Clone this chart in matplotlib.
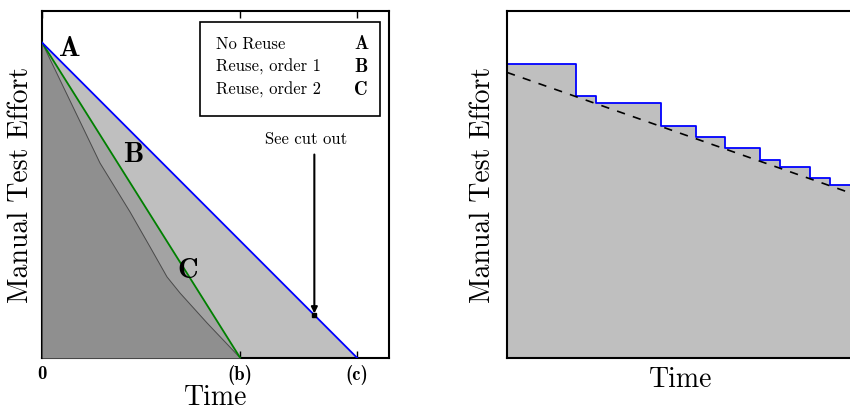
import numpy as np
import matplotlib
matplotlib.use("Agg")
import matplotlib.pyplot as plt
from matplotlib.patches import Rectangle

# ---- left panel: manual test effort over time ----
t_b = 200.0          # time at which reuse order 1 finishes
t_c = 318.0          # time at which no reuse finishes
effort0 = 100.0      # initial manual test effort

tick_pos = [0.0, t_b, t_c]
tick_labels = ["0", "(b)", "(c)"]

# No reuse (A) and reuse order 1 (B): straight decline
line_a_x = [0.0, t_c]
line_a_y = [effort0, 0.0]
line_b_x = [0.0, t_b]
line_b_y = [effort0, 0.0]

# Reuse order 2 (C): faster decline
curve_c_x = [0.0, 58.5, 88.8, 109.0, 126.1, 139.2, 166.5, 200.0]
curve_c_y = [100.0, 61.8, 46.3, 35.2, 25.7, 20.6, 11.1, 0.0]

legend_names = ["No Reuse", "Reuse, order 1", "Reuse, order 2"]
legend_keys = ["A", "B", "C"]

cut_x = 274.7

# ---- right panel: cut out of the no-reuse line ----
step_x = [0.0, 20.0, 25.7, 44.4, 54.4, 62.9, 73.0, 78.7, 87.2, 93.1, 100.0]
step_y = [84.6, 75.6, 73.6, 67.0, 63.6, 60.5, 57.1, 55.0, 52.0, 49.9, 49.9]
trend_x = [0.0, 100.0]
trend_y = [82.3, 47.2]

RM = "cmr10"
BF = "cmb10"
plt.rcParams["axes.linewidth"] = 1.5

fig = plt.figure(figsize=(8.5, 4.15), dpi=100)
ax1 = fig.add_axes([42 / 850, 57 / 415, 347 / 850, 347 / 415])
ax2 = fig.add_axes([507 / 850, 57 / 415, 347 / 850, 347 / 415])

# left panel fills
ax1.fill_between(line_a_x, line_a_y, 0, color="#bfbfbf", lw=0, zorder=1)
ax1.fill_between(line_b_x, line_b_y, 0, color="#a3a3a3", lw=0, zorder=2)
ax1.fill_between(curve_c_x, curve_c_y, 0, color="#8f8f8f", lw=0, zorder=3)
ax1.plot(curve_c_x, curve_c_y, color="#4a4a4a", lw=0.7, zorder=4)
ax1.plot(line_b_x, line_b_y, color="#008000", lw=1.3, zorder=5)
ax1.plot(line_a_x, line_a_y, color="#0000ff", lw=1.3, zorder=6)

ax1.set_xlim(0, 350)
ax1.set_ylim(0, 110)
ax1.set_xticks(tick_pos)
ax1.set_xticklabels(tick_labels, fontfamily=BF, fontsize=13.5)
ax1.set_yticks([])
ax1.tick_params(axis="x", direction="in", top=True, length=5, width=1, pad=5)
ax1.set_xlabel("Time", fontfamily=RM, fontsize=20, labelpad=0)
ax1.set_ylabel("Manual Test Effort", fontfamily=RM, fontsize=20, labelpad=6)

ax1.text(17, 98, "A", fontfamily=BF, fontsize=20.5, ha="left", va="center", zorder=7)
ax1.text(92, 64.5, "B", fontfamily=BF, fontsize=20.5, ha="center", va="center", zorder=7)
ax1.text(147, 27.5, "C", fontfamily=BF, fontsize=20.5, ha="center", va="center", zorder=7)

# legend box
ax1.add_patch(Rectangle((0.455, 0.697), 0.52, 0.27, transform=ax1.transAxes,
                        facecolor="white", edgecolor="black", lw=1.2, zorder=8))
for i, (name, key) in enumerate(zip(legend_names, legend_keys)):
    yy = 0.905 - i * 0.066
    ax1.text(0.5, yy, name, transform=ax1.transAxes, fontfamily=RM,
             fontsize=12, va="center", ha="left", zorder=9)
    ax1.text(0.9, yy, key, transform=ax1.transAxes, fontfamily=BF,
             fontsize=13.5, va="center", ha="left", zorder=9)

# cut-out marker and arrow
cut_y = effort0 * (1 - cut_x / t_c)
ax1.plot([cut_x], [cut_y], marker="s", color="black", ms=3.5, zorder=10)
ax1.annotate("", xy=(cut_x, cut_y + 0.5), xytext=(cut_x, 64.5),
             arrowprops=dict(arrowstyle="-|>", color="black", lw=1.5,
                             mutation_scale=9, shrinkA=0, shrinkB=0),
             zorder=10)
ax1.text(266, 69.3, "See cut out", fontfamily=RM, fontsize=12,
         ha="center", va="center")

# right panel
ax2.fill_between(step_x, step_y, 0, step="post", color="#bfbfbf", lw=0)
ax2.step(step_x, step_y, where="post", color="#0000ff", lw=1.3)
ax2.plot(trend_x, trend_y, color="black", lw=1.2, dashes=(5, 5))
ax2.set_xlim(0, 100)
ax2.set_ylim(0, 100)
ax2.set_xticks([])
ax2.set_yticks([])
ax2.set_xlabel("Time", fontfamily=RM, fontsize=20, labelpad=6)
ax2.set_ylabel("Manual Test Effort", fontfamily=RM, fontsize=20, labelpad=8)

fig.savefig("out.png", dpi=100)
